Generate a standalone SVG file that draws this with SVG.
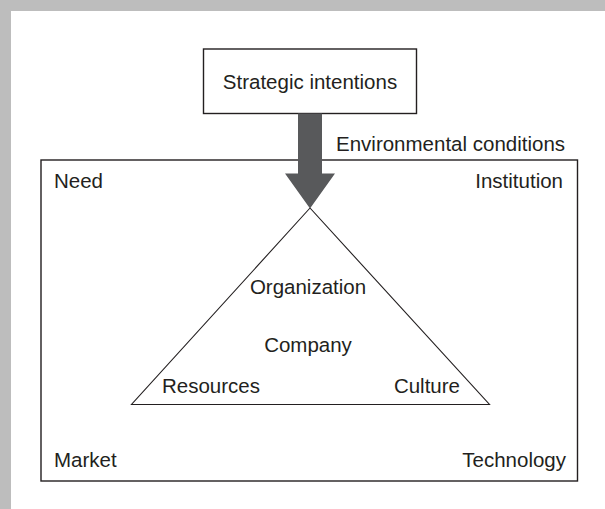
<svg xmlns="http://www.w3.org/2000/svg" width="605" height="509" viewBox="0 0 605 509">
  <style>
    .lbl { font-family: "Liberation Sans", Arial, sans-serif; font-size: 20.5px; fill: #231f20; }
    .mid { text-anchor: middle; }
    .end { text-anchor: end; }
    .frame { fill: #ffffff; stroke: #231f20; stroke-width: 1.4; }
    .tri { fill: none; stroke: #231f20; stroke-width: 1.1; stroke-linejoin: miter; }
    .flow { fill: #58595b; stroke: none; }
  </style>

  <!-- page background with grey margin -->
  <rect x="0" y="0" width="605" height="509" fill="#bdbdbd"/>
  <rect x="11" y="11" width="594" height="498" fill="#ffffff"/>

  <!-- environment frame -->
  <g id="environment">
    <rect class="frame" x="41" y="160" width="536.5" height="321"/>
    <text class="lbl" x="54" y="188">Need</text>
    <text class="lbl end" x="563" y="188">Institution</text>
    <text class="lbl" x="54" y="467">Market</text>
    <text class="lbl end" x="566" y="467">Technology</text>
  </g>

  <!-- company triangle -->
  <g id="company">
    <polygon class="tri" points="310,208 131.5,404.5 489.5,404.5"/>
    <text class="lbl mid" x="308" y="294">Organization</text>
    <text class="lbl mid" x="308" y="351.5">Company</text>
    <text class="lbl" x="162" y="392.5">Resources</text>
    <text class="lbl end" x="460" y="392.5">Culture</text>
  </g>

  <!-- strategic intentions box -->
  <g id="strategic-intentions">
    <rect class="frame" x="203.5" y="49" width="213" height="64.5"/>
    <text class="lbl mid" x="310" y="88.5">Strategic intentions</text>
  </g>

  <!-- influence arrow -->
  <g id="connectors">
    <polygon class="flow" points="298,113.5 322,113.5 322,173.5 335,173.5 310,208.5 285,173.5 298,173.5"/>
    <text class="lbl" x="336" y="150.5">Environmental conditions</text>
  </g>
</svg>
